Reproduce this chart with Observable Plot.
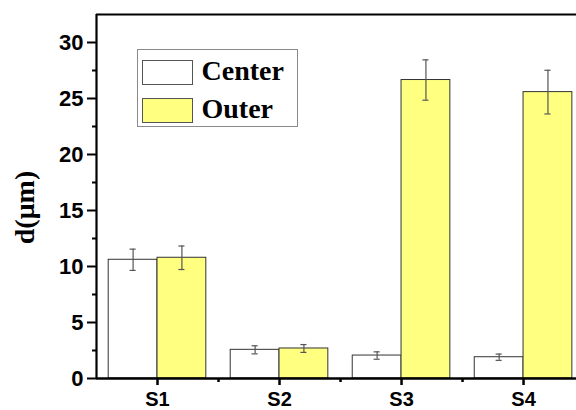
<!DOCTYPE html>
<html>
<head>
<meta charset="utf-8">
<script src="https://cdn.jsdelivr.net/npm/d3@7"></script>
<script src="https://cdn.jsdelivr.net/npm/@observablehq/plot@0.6"></script>
<style>
  body { margin: 0; background: white; }
  #wrap { position: relative; width: 576px; height: 410px; overflow: hidden; }
  #legend { position: absolute; left: 136.5px; top: 49px; width: 161px; height: 78px; box-sizing: border-box;
    border: 1px solid #8a8a8a; background: white; font-family: "Liberation Serif", serif; font-weight: bold; font-size: 28px; }
  .sw { position: absolute; left: 4px; width: 51px; height: 25px; box-sizing: border-box; border: 1px solid #555; }
  .lb { position: absolute; left: 64px; line-height: 1; color: #000; }
</style>
</head>
<body>
<div id="wrap">
  <div id="chart"></div>
  <div id="legend"></div>
</div>
<script>
const samples = ["S1", "S2", "S3", "S4"];
const seriesNames = ["Center", "Outer"];
const seriesColors = ["#ffffff", "#ffff80"];
const centerValues = [10.6, 2.56, 2.05, 1.9];
const centerErrors = [0.95, 0.36, 0.33, 0.28];
const outerValues = [10.78, 2.68, 26.65, 25.57];
const outerErrors = [1.05, 0.35, 1.8, 1.95];
const yMajorTicks = [0, 5, 10, 15, 20, 25, 30];
const yMinorTicks = [2.5, 7.5, 12.5, 17.5, 22.5, 27.5];
const yLabel = "d(μm)";

const barW = 0.4;   // bar width in category units
const capW = 0.025; // half width of error caps
const rows = [];
samples.forEach((s, i) => {
  const pos = i + 1;
  rows.push({sample: s, series: "Center", value: centerValues[i], err: centerErrors[i], x1: pos - barW, x2: pos});
  rows.push({sample: s, series: "Outer", value: outerValues[i], err: outerErrors[i], x1: pos, x2: pos + barW});
});
rows.forEach(d => { d.xc = (d.x1 + d.x2) / 2; d.lo = d.value - d.err; d.hi = d.value + d.err; });

const chart = Plot.plot({
  width: 576,
  height: 410,
  marginLeft: 96,
  marginRight: 0,
  marginTop: 14,
  marginBottom: 32,
  style: {fontFamily: "Liberation Sans, Arial, sans-serif", fontSize: "22px", fontWeight: "bold", color: "#000", background: "white"},
  x: {domain: [0.5, 4.434]},
  y: {domain: [0, 32.5]},
  color: {domain: seriesNames, range: seriesColors},
  marks: [
    Plot.rectY(rows, {x1: "x1", x2: "x2", y1: 0, y2: "value", fill: "series", stroke: "#333", strokeWidth: 1}),
    Plot.ruleX(rows, {x: "xc", y1: "lo", y2: "hi", stroke: "#555", strokeWidth: 1.2}),
    Plot.ruleY(rows, {x1: d => d.xc - capW, x2: d => d.xc + capW, y: "hi", stroke: "#555", strokeWidth: 1.2}),
    Plot.ruleY(rows, {x1: d => d.xc - capW, x2: d => d.xc + capW, y: "lo", stroke: "#555", strokeWidth: 1.2}),
    Plot.axisY({ticks: yMajorTicks, tickSize: 9, tickPadding: 4, strokeWidth: 2, label: null}),
    Plot.axisY({ticks: yMinorTicks, tickSize: 4, text: null, strokeWidth: 2, label: null}),
    Plot.axisX({ticks: [1, 2, 3, 4], tickFormat: d => samples[d - 1], tickSize: 7, tickPadding: 6, fontSize: 20, strokeWidth: 2.5, label: null}),
    Plot.axisX({ticks: [1.5, 2.5, 3.5], tickSize: 4, text: null, strokeWidth: 2.5, label: null}),
    Plot.ruleX([0.5], {strokeWidth: 2.2}),
    Plot.ruleY([0], {strokeWidth: 2.5}),
    Plot.ruleY([32.5], {strokeWidth: 2.2}),
    Plot.text([yLabel], {frameAnchor: "left", textAnchor: "middle", lineAnchor: "middle", rotate: -90, dx: -71, dy: 11, fontFamily: "Liberation Serif, serif", fontSize: 28, fontWeight: "bold", fill: "#000"})
  ]
});
document.getElementById("chart").appendChild(chart);

const legend = document.getElementById("legend");
seriesNames.forEach((name, i) => {
  const sw = document.createElement("div");
  sw.className = "sw";
  sw.style.top = (i === 0 ? 9.5 : 47.5) + "px";
  sw.style.background = seriesColors[i];
  legend.appendChild(sw);
  const lb = document.createElement("div");
  lb.className = "lb";
  lb.style.top = (i === 0 ? 7 : 45) + "px";
  lb.textContent = name;
  legend.appendChild(lb);
});
</script>
</body>
</html>
